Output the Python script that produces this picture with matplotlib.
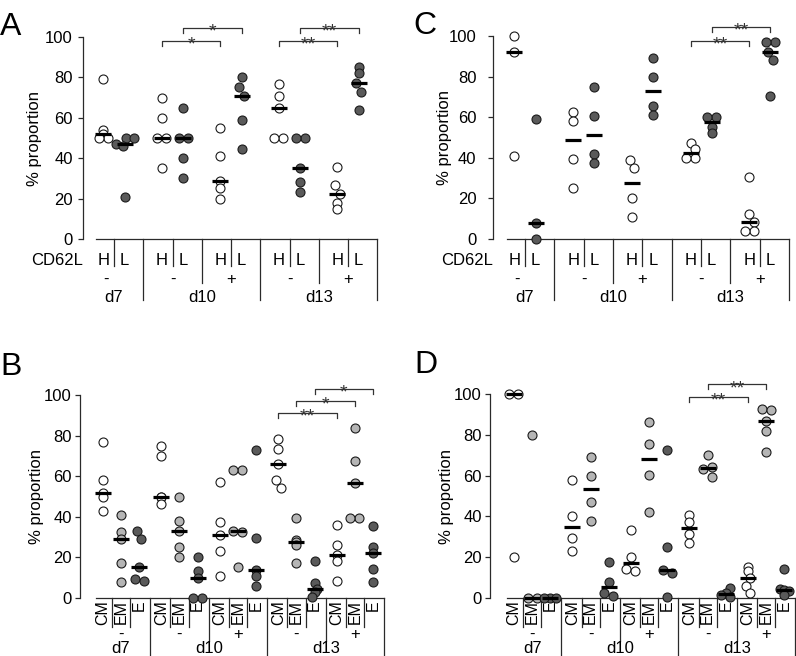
import numpy as np
import matplotlib
matplotlib.use('Agg')
import matplotlib.pyplot as plt
from matplotlib.transforms import blended_transform_factory as btf

plt.rcParams['font.family'] = ['Liberation Sans', 'DejaVu Sans']

# ---------------- data ----------------
groups_sign = ['-', '-', '+', '-', '+']
days = ['d7', 'd10', 'd13']

# Panel A (CD62L high / low)
A_H = [[79, 54, 52, 50, 50], [70, 60, 50, 50, 35], [55, 41, 28.5, 25, 20],
       [76.5, 71, 65, 50, 50], [35.5, 26.5, 22.5, 18, 15]]
A_L = [[50, 50, 47, 46, 21], [65, 50, 50, 40, 30], [80, 75, 71, 59, 44.5],
       [50, 50, 35, 28, 23.5], [85, 82, 77, 73, 64]]

# Panel C
C_H = [[100, 92, 41], [62.5, 58, 39.5, 25], [39, 35, 20, 11],
       [47.5, 44.5, 40, 40], [30.5, 12.5, 8.5, 4, 4]]
C_L = [[59, 8, 0], [75, 60.5, 42, 37.5], [89, 80, 65.5, 61],
       [60, 60, 55, 52], [97, 97, 92, 88, 70.5]]

# Panel B (CM / EM / E)
B_CM = [[77, 58, 51.5, 50, 43], [75, 70, 50, 50, 46.5], [57, 37.5, 31, 23, 11],
        [78.5, 73.5, 66, 58, 54], [36, 26, 21, 18, 8.5]]
B_EM = [[41, 32.5, 29, 17, 8], [50, 38, 33, 25, 20], [63, 63, 33, 32.5, 15.5],
        [39.5, 28.5, 27.5, 26, 17], [83.5, 67.5, 56.5, 39.5, 39.5]]
B_E = [[33, 29, 15.5, 9.5, 8.5], [20, 13.5, 10, 0, 0], [73, 29.5, 14, 11, 6],
       [18, 7.5, 4.5, 3, 0.5], [35.5, 25, 22, 14.5, 8]]

# Panel D
D_CM = [[100, 100, 20], [58, 40, 29.5, 23], [33.5, 20, 14, 13],
        [40.5, 37.5, 31.5, 27], [15, 13, 10, 6, 2.3]]
D_EM = [[80, 0, 0], [69, 60, 47, 37.7], [86.4, 75.5, 60.3, 42.3],
        [70, 64, 63, 59.5], [92.5, 92, 87, 82, 71.5]]
D_E = [[0, 0, 0], [17.8, 8, 2.3, 1], [72.5, 25, 13.5, 12.5, 0.5],
       [5, 2.5, 1.5, 0.5], [14, 4.5, 4, 3.5, 1.5]]

# significance brackets: (group a, category, group b, category, label, level)
A_sig = [(1, 'H', 2, 'H', '*', 98), (1, 'L', 2, 'L', '*', 104.5),
         (3, 'H', 4, 'H', '**', 98), (3, 'L', 4, 'L', '**', 104.5)]
C_sig = [(3, 'H', 4, 'H', '**', 97.7), (3, 'L', 4, 'L', '**', 104.6)]
B_sig = [(3, 'CM', 4, 'CM', '**', 91), (3, 'EM', 4, 'EM', '*', 97),
         (3, 'E', 4, 'E', '*', 103)]
D_sig = [(3, 'CM', 4, 'CM', '**', 98.7), (3, 'EM', 4, 'EM', '**', 104.7)]

# ---------------- layout ----------------
W, H = 796, 656
fig = plt.figure(figsize=(W / 100, H / 100), dpi=100)
WHITE, LIGHT, DARK = '#ffffff', '#b5b5b5', '#5a5a5a'
EDGE = '#1a1a1a'
LINE = '#2a2a2a'
FS = 12


def fx(px):
    return px / W


def fy(px):
    return 1 - px / H


def swarm_offsets(vals, ppu, pyu, d=9.0, limit=None):
    vals = np.asarray(vals, float)
    n = len(vals)
    ys = vals * pyu
    order = np.argsort(ys, kind='stable')
    xs = np.zeros(n)
    placed = []
    steps = sorted([k * 0.5 for k in range(-6, 7)], key=lambda s: (abs(s), s))
    for i in order:
        o = 0.0
        for s in steps:
            o = s * d
            if all((o - px) ** 2 + (ys[i] - py) ** 2 >= (0.97 * d) ** 2
                   for px, py in placed):
                break
        xs[i] = o
        placed.append((o, ys[i]))
    parent = list(range(n))

    def find(a):
        while parent[a] != a:
            a = parent[a]
        return a
    for i in range(n):
        for j in range(i + 1, n):
            if np.hypot(xs[i] - xs[j], ys[i] - ys[j]) < 1.05 * d:
                parent[find(i)] = find(j)
    roots = [find(i) for i in range(n)]
    for r in set(roots):
        idx = [i for i in range(n) if roots[i] == r]
        xs[idx] -= (xs[idx].max() + xs[idx].min()) / 2
    if limit is not None and np.abs(xs).max() > limit:
        xs *= limit / np.abs(xs).max()
    return xs / ppu


def panel(letter, letter_xy, spine, xl, ppu, y0, y100, base_start, pad,
          ylab_x, cats, cat_off, series, colors, sigs, kind):
    xr = 4.56
    ax = fig.add_axes([fx(spine), fy(y0), (xr - xl) * ppu / W, (y0 - y100) / H])
    ax.set_xlim(xl, xr)
    ax.set_ylim(0, 100)
    for s in ['top', 'right', 'bottom']:
        ax.spines[s].set_visible(False)
    ax.spines['left'].set_bounds(0, 100)
    ax.spines['left'].set_color(LINE)
    ax.spines['left'].set_linewidth(0.9)
    ax.set_xticks([])
    ax.set_yticks(range(0, 101, 20))
    ax.tick_params(axis='y', length=3.8, width=0.9, color=LINE, pad=pad,
                   labelsize=FS)
    ax.patch.set_visible(False)
    pyu = (y0 - y100) / 100.0
    limit = 9.0 if kind == 'pair' else 6.0
    hw = 8.0 / ppu
    catpos = {}
    for ci, (cat, off, vals_all, col) in enumerate(zip(cats, cat_off, series, colors)):
        for g, vals in enumerate(vals_all):
            xc = g + off
            catpos[(g, cat)] = xc
            offs = swarm_offsets(vals, ppu, pyu, limit=limit)
            ax.scatter(xc + offs, vals, s=42, c=col, edgecolors=EDGE,
                       linewidths=0.8, zorder=3, clip_on=False)
            ax.hlines(np.median(vals), xc - hw, xc + hw, colors='black',
                      lw=2.3, zorder=4, clip_on=False)
    # brackets
    drop = 5.0 / pyu
    for ga, ca, gb, cb, lab, lev in sigs:
        xa, xb = catpos[(ga, ca)], catpos[(gb, cb)]
        ax.plot([xa, xa, xb, xb], [lev - drop, lev, lev, lev - drop],
                color='#333333', lw=0.9, clip_on=False, zorder=2)
        ax.annotate(lab, xy=((xa + xb) / 2, lev), xytext=(0, -6.2),
                    textcoords='offset points', ha='center', va='baseline',
                    fontsize=14, color='#333333', annotation_clip=False)
    # baseline
    ax.plot([base_start, 4.5], [0, 0], color=LINE, lw=0.9, clip_on=False, zorder=2)
    tr = btf(ax.transData, fig.transFigure)
    ngroups = 5
    if kind == 'pair':
        short_end, grp_end, day_end = 266, 283, 300
        for g in range(ngroups):
            ax.plot([g, g], [fy(y0), fy(short_end)], transform=tr, color=LINE,
                    lw=0.9, clip_on=False)
            for cat, off in zip(cats, cat_off):
                ax.text(g + off, fy(265), cat, transform=tr, ha='center',
                        va='baseline', fontsize=FS)
        sign_y, day_y = 284, 302
        ax.text(xl, fy(265), 'CD62L', transform=tr, ha='right', va='baseline',
                fontsize=FS)
    else:
        short_end, grp_end, day_end = 627, 641, 660
        for g in range(ngroups):
            for k in (-0.155, 0.155):
                ax.plot([g + k, g + k], [fy(y0), fy(short_end)], transform=tr,
                        color=LINE, lw=0.9, clip_on=False)
            for cat, off in zip(cats, cat_off):
                ax.text(g + off, fy(y0 + 2), cat, transform=tr, ha='center',
                        va='top', rotation=90, fontsize=11.5)
        sign_y, day_y = 639, 653
    for xg in (1.5, 3.5):
        ax.plot([xg, xg], [fy(y0), fy(grp_end)], transform=tr, color=LINE,
                lw=0.9, clip_on=False)
    for xd in (0.5, 2.5, 4.5):
        ax.plot([xd, xd], [fy(y0), fy(day_end)], transform=tr, color=LINE,
                lw=0.9, clip_on=False)
    for g, sg in enumerate(groups_sign):
        xs_ = g - 0.14 if (g == 0 and kind == 'pair') else g
        ax.text(xs_, fy(sign_y), sg, transform=tr, ha='center', va='baseline',
                fontsize=FS)
    for xdc, dl in zip((0, 1.5, 3.5), days):
        ax.text(xdc, fy(day_y), dl, transform=tr, ha='center', va='baseline',
                fontsize=FS)
    # y label
    trl = btf(fig.transFigure, ax.transData)
    ax.text(fx(ylab_x), 50, '% proportion', transform=trl, rotation=90,
            ha='center', va='center', fontsize=FS)
    fig.text(fx(letter_xy[0]), fy(letter_xy[1]), letter, fontsize=23,
             ha='left', va='baseline')
    return ax


panel('A', (0, 35), 83, -0.53, 58.5, 239, 37, -0.30, 3.5, 35,
      ['H', 'L'], [-0.18, 0.18], [A_H, A_L], [WHITE, DARK], A_sig, 'pair')
panel('C', (413.5, 34), 493, -0.545, 58.7, 239, 36, -0.31, 8.0, 444,
      ['H', 'L'], [-0.18, 0.18], [C_H, C_L], [WHITE, DARK], C_sig, 'pair')
panel('B', (0, 375), 80, -0.70, 58.5, 598, 395, -0.43, 2.0, 37,
      ['CM', 'EM', 'E'], [-0.31, 0.0, 0.31], [B_CM, B_EM, B_E],
      [WHITE, LIGHT, DARK], B_sig, 'triple')
panel('D', (414.5, 373), 490, -0.72, 58.5, 598, 394, -0.43, 2.0, 446,
      ['CM', 'EM', 'E'], [-0.31, 0.0, 0.31], [D_CM, D_EM, D_E],
      [WHITE, LIGHT, DARK], D_sig, 'triple')

fig.savefig('out.png', dpi=100)
